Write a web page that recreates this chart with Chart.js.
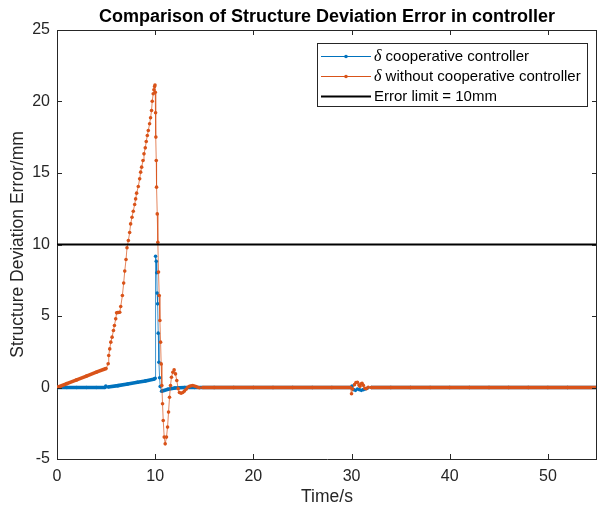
<!DOCTYPE html>
<html>
<head>
<meta charset="utf-8">
<script src="https://cdn.jsdelivr.net/npm/chart.js@4.4.0/dist/chart.umd.min.js"></script>
<style>
  html, body { margin: 0; padding: 0; background: #fff; }
  canvas { display: block; }
</style>
</head>
<body>
<canvas id="errorChart" width="597" height="510"></canvas>
<script>
// values (time in s, error in mm)
const coopTime = [0, 1, 2, 3, 4, 4.9, 4.97, 5.2, 6.2, 7.2, 8.2, 9.0, 9.94, 10.0,
  10.04, 10.11, 10.16, 10.2, 10.25, 10.31, 10.38, 10.45, 10.51, 10.65, 11.3, 12.0,
  13, 14, 16, 18, 20, 22, 24, 26, 28, 29.9, 30.05, 30.2, 30.4, 30.6, 30.8, 31.0,
  31.2, 31.4, 31.6, 32, 34, 36, 38, 40, 42, 44, 46, 48, 50, 52, 55];
const coopError = [0, 0, 0, 0, 0, 0, 0.1, 0.03, 0.13, 0.25, 0.37, 0.46, 0.6, 0.65,
  9.18, 8.83, 8.02, 6.6, 5.85, 3.8, 1.77, 0.68, 0.07, -0.26, -0.12, -0.03,
  0, 0, 0, 0, 0, 0, 0, 0, 0, 0, 0.1, -0.15, -0.2, -0.1, -0.15, -0.2,
  -0.15, -0.1, -0.05, 0, 0, 0, 0, 0, 0, 0, 0, 0, 0, 0, 0];

const plainTime = [0, 1, 2, 3, 4, 5,
  5.21, 5.27, 5.37, 5.48, 5.61, 5.75, 5.85, 5.98, 6.07, 6.17, 6.28, 6.39, 6.49, 6.66,
  6.79, 6.9, 7.03, 7.13, 7.27, 7.4, 7.5, 7.64, 7.77, 7.91, 8.01, 8.11, 8.28, 8.42,
  8.52, 8.62, 8.76, 8.86, 8.99, 9.09, 9.2, 9.3, 9.43, 9.53, 9.63, 9.7, 9.8, 9.87,
  9.94, 9.98, 10.01, 10.04, 10.07, 10.11, 10.14, 10.21, 10.27, 10.34, 10.41, 10.48,
  10.55, 10.61, 10.68, 10.75, 10.82, 10.92, 11.02, 11.15, 11.26, 11.36, 11.46, 11.56,
  11.66, 11.8, 11.93, 12.07, 12.2, 12.34, 12.47, 12.64, 12.81, 12.98, 13.15, 13.32,
  13.49, 13.66, 13.82, 14.0, 14.16, 14.33, 14.5, 14.84,
  16, 18, 20, 22, 24, 26, 28, 29.9, 30.0, 30.1, 30.3, 30.45, 30.6, 30.75, 30.85,
  30.95, 31.07, 31.2, 31.35, 31.5, 31.7, 32, 34, 36, 38, 40, 42, 44, 46, 48, 50,
  52, 55];
const plainError = [0, 0.27, 0.53, 0.8, 1.07, 1.33,
  1.66, 2.24, 2.7, 3.17, 3.52, 3.99, 4.34, 4.8, 5.22, 5.24, 5.24, 5.26, 5.66, 6.43,
  7.3, 8.14, 8.95, 9.77, 10.28, 10.84, 11.44, 11.91, 12.33, 12.8, 13.19, 13.59, 14.06, 14.59,
  15.06, 15.41, 15.87, 16.34, 16.76, 17.2, 17.62, 17.97, 18.44, 18.86, 19.37, 20.02, 20.54, 20.82,
  21.05, 21.15, 20.65, 19.21, 17.51, 15.87, 14.01, 12.14, 10.16, 8.07, 6.43, 4.69,
  3.17, 1.65, 0.14, -1.14, -2.31, -3.47, -3.94, -3.47, -2.77, -1.72, -0.68, 0.14,
  0.72, 1.07, 1.23, 0.95, 0.49, -0.09, -0.35, -0.4, -0.35, -0.25, -0.12, 0.02,
  0.08, 0.12, 0.14, 0.1, 0.07, 0.02, -0.02, 0,
  0, 0, 0, 0, 0, 0, 0, 0, -0.44, -0.1, 0.2, 0.35, 0.37, 0.18, 0.08,
  0.25, 0.3, 0.15, -0.05, -0.08, 0.02, 0, 0, 0, 0, 0, 0, 0, 0, 0, 0,
  0, 0];

const limitTime = [0, 55];
const limitError = [10, 10];

const chartTitle = 'Comparison of Structure Deviation Error in controller';
const seriesNames = ['cooperative controller', 'without cooperative controller', 'Error limit = 10mm'];

const BLUE = '#0072BD';
const ORANGE = '#D95319';
const SANS = "'Liberation Sans', Arial, Helvetica, sans-serif";
const AXIS = '#262626';

const toPoints = (xs, ys) => xs.map((x, i) => ({ x: x, y: ys[i] }));

// MATLAB draws a marker at every sample; where samples are very dense the markers
// merge into a thick band, so long gaps between our read-off points get a thick stroke
const dense = ctx => ctx.p1.parsed.x - ctx.p0.parsed.x > 0.6;
function markedLine(color, thin) {
  return {
    borderColor: color,
    backgroundColor: color,
    pointBackgroundColor: color,
    pointBorderWidth: 0,
    pointRadius: 1.8,
    borderWidth: 1,
    segment: {
      borderWidth: ctx => dense(ctx) ? 3.6 : 1,
      borderColor: ctx => dense(ctx) ? color : thin
    }
  };
}

const framePlugin = {
  id: 'matlabFrame',
  afterDraw(chart) {
    const { ctx, chartArea: a, scales } = chart;
    ctx.save();

    // title centred over the axes, like MATLAB
    ctx.fillStyle = '#000';
    ctx.font = 'bold 18px ' + SANS;
    ctx.textAlign = 'center';
    ctx.textBaseline = 'middle';
    ctx.fillText(chartTitle, (a.left + a.right) / 2, 17);
    ctx.textAlign = 'left';

    ctx.strokeStyle = AXIS;
    ctx.lineWidth = 1;
    ctx.beginPath();
    ctx.moveTo(a.left, a.top + 0.5);
    ctx.lineTo(a.right, a.top + 0.5);
    ctx.moveTo(a.right - 0.5, a.top);
    ctx.lineTo(a.right - 0.5, a.bottom);
    // inward tick marks on all four sides
    scales.x.ticks.forEach(t => {
      const px = Math.round(scales.x.getPixelForValue(t.value)) + 0.5;
      ctx.moveTo(px, a.bottom);
      ctx.lineTo(px, a.bottom - 5);
      ctx.moveTo(px, a.top);
      ctx.lineTo(px, a.top + 5);
    });
    scales.y.ticks.forEach(t => {
      const py = Math.round(scales.y.getPixelForValue(t.value)) + 0.5;
      ctx.moveTo(a.left, py);
      ctx.lineTo(a.left + 5, py);
      ctx.moveTo(a.right, py);
      ctx.lineTo(a.right - 5, py);
    });
    ctx.stroke();

    // legend box, top right inside the axes
    const lx = 317, ly = 43, lw = 270, lh = 63;
    ctx.fillStyle = '#fff';
    ctx.fillRect(lx, ly, lw, lh);
    ctx.strokeRect(lx + 0.5, ly + 0.5, lw, lh);
    const colors = [BLUE, ORANGE, '#000'];
    seriesNames.forEach((name, i) => {
      const y = 56.5 + i * 20;
      ctx.strokeStyle = colors[i];
      ctx.lineWidth = i < 2 ? 1 : 2;
      ctx.beginPath();
      ctx.moveTo(321, y);
      ctx.lineTo(371, y);
      ctx.stroke();
      if (i < 2) {
        ctx.fillStyle = colors[i];
        ctx.beginPath();
        ctx.arc(346, y, 1.8, 0, Math.PI * 2);
        ctx.fill();
      }
      ctx.fillStyle = '#000';
      ctx.textBaseline = 'middle';
      let tx = 374;
      if (i < 2) {
        ctx.font = "italic 16px 'Liberation Serif', 'Times New Roman', serif";
        ctx.fillText('δ', tx, y);
        tx += ctx.measureText('δ').width;
        ctx.font = '15px ' + SANS;
        ctx.fillText(' ' + name, tx, y + 0.5);
      } else {
        ctx.font = '15px ' + SANS;
        ctx.fillText(name, tx, y + 0.5);
      }
    });
    ctx.restore();
  }
};

new Chart(document.getElementById('errorChart'), {
  type: 'line',
  data: {
    datasets: [
      Object.assign({ label: 'δ ' + seriesNames[0], data: toPoints(coopTime, coopError), order: 3 },
        markedLine(BLUE, 'rgba(0,114,189,0.75)')),
      Object.assign({ label: 'δ ' + seriesNames[1], data: toPoints(plainTime, plainError), order: 2 },
        markedLine(ORANGE, 'rgba(217,83,25,0.7)')),
      {
        label: seriesNames[2],
        data: toPoints(limitTime, limitError),
        order: 1,
        borderColor: '#000',
        borderWidth: 2,
        pointRadius: 0
      }
    ]
  },
  options: {
    responsive: false,
    animation: false,
    devicePixelRatio: 1,
    layout: { autoPadding: false, padding: { left: 0, right: -3, top: 30, bottom: 0 } },
    plugins: {
      legend: { display: false },
      tooltip: { enabled: false },
      title: { display: false }
    },
    scales: {
      x: {
        type: 'linear',
        min: 0,
        max: 55,
        afterFit: s => { s.height = 51; s.paddingLeft = 0; s.paddingRight = 0; },
        ticks: {
          stepSize: 10,
          includeBounds: false,
          color: AXIS,
          padding: 8,
          maxRotation: 0,
          font: { family: SANS, size: 16 }
        },
        grid: { drawOnChartArea: false, drawTicks: false },
        border: { color: AXIS, width: 1 },
        title: {
          display: true,
          text: 'Time/s',
          color: AXIS,
          font: { family: SANS, size: 17.5 },
          padding: { top: 0, bottom: 2 }
        }
      },
      y: {
        min: -5,
        max: 25,
        afterFit: s => { s.width = 57; s.paddingTop = 0; s.paddingBottom = 0; },
        ticks: {
          stepSize: 5,
          color: AXIS,
          padding: 7,
          font: { family: SANS, size: 16 }
        },
        grid: { drawOnChartArea: false, drawTicks: false },
        border: { color: AXIS, width: 1 },
        title: {
          display: true,
          text: 'Structure Deviation Error/mm',
          color: AXIS,
          font: { family: SANS, size: 17.5 },
          padding: { top: 8, bottom: 0 }
        }
      }
    }
  },
  plugins: [framePlugin]
});
</script>
</body>
</html>
